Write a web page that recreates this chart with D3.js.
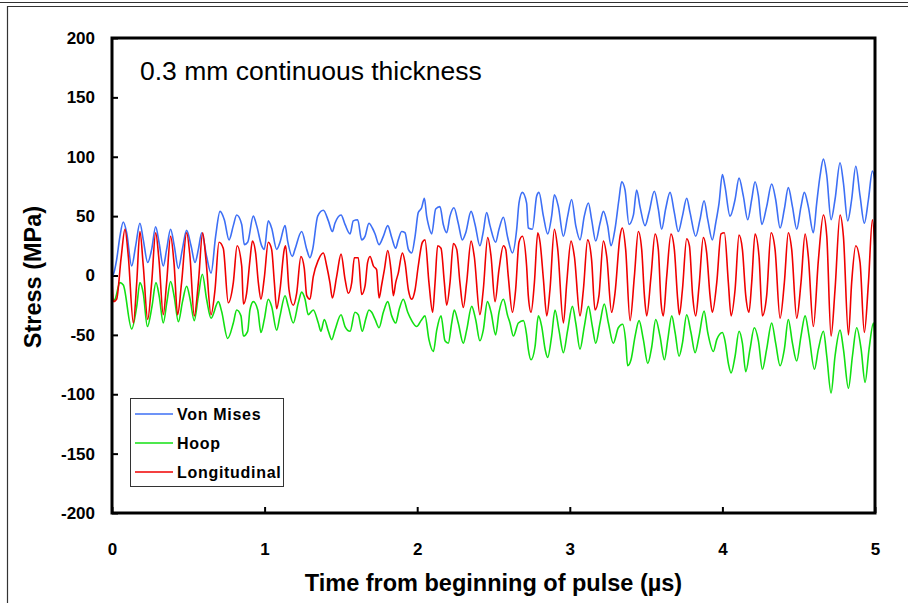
<!DOCTYPE html>
<html>
<head>
<meta charset="utf-8">
<script src="https://cdn.jsdelivr.net/npm/d3@7"></script>
<style>
  html, body { margin: 0; padding: 0; background: #fff; }
  svg { display: block; }
  text { font-family: "Liberation Sans", Arial, sans-serif; }
</style>
</head>
<body>
<svg id="chart" width="908" height="603"></svg>
<script>
// Stress histories, [time (µs), stress (MPa)]
const vonMises = [[0,0],[0.009,1],[0.030,13],[0.052,33],[0.074,45],[0.096,36],[0.129,8],[0.155,25],[0.183,44],[0.205,30],[0.234,11],[0.260,22],[0.286,41],[0.308,28],[0.336,8],[0.358,22],[0.384,39],[0.408,25],[0.435,6],[0.461,22],[0.489,38],[0.518,25],[0.544,11],[0.566,22],[0.588,36],[0.620,16],[0.649,2],[0.679,33],[0.708,54],[0.736,47],[0.767,30],[0.795,42],[0.817,51],[0.850,43],[0.867,26],[0.889,28],[0.926,50],[0.948,42],[0.981,25],[0.998,22],[1.024,46],[1.046,40],[1.079,22],[1.101,28],[1.134,42],[1.151,29],[1.182,16],[1.199,22],[1.243,37],[1.276,22],[1.297,15],[1.315,22],[1.348,50],[1.385,55],[1.418,46],[1.444,37],[1.461,44],[1.501,51],[1.527,43],[1.560,35],[1.581,46],[1.610,47],[1.636,30],[1.658,33],[1.684,44],[1.706,40],[1.724,35],[1.750,26],[1.778,33],[1.807,42],[1.833,32],[1.859,23],[1.876,30],[1.898,37],[1.920,36],[1.942,22],[1.964,19],[1.986,33],[2.007,53],[2.029,57],[2.047,65],[2.062,50],[2.073,43],[2.095,35],[2.121,56],[2.149,58],[2.171,43],[2.193,36],[2.215,50],[2.241,57],[2.269,44],[2.296,30],[2.318,36],[2.353,54],[2.379,43],[2.411,25],[2.433,37],[2.455,53],[2.477,42],[2.514,28],[2.536,39],[2.565,49],[2.593,32],[2.624,19],[2.652,39],[2.667,61],[2.689,70],[2.717,61],[2.728,40],[2.755,39],[2.783,67],[2.798,70],[2.827,50],[2.855,35],[2.881,50],[2.899,68],[2.925,58],[2.958,33],[2.986,50],[3.012,64],[3.039,42],[3.067,30],[3.095,50],[3.122,61],[3.143,47],[3.170,29],[3.198,44],[3.220,54],[3.248,42],[3.270,25],[3.296,39],[3.322,64],[3.340,79],[3.362,72],[3.388,43],[3.417,51],[3.438,72],[3.460,58],[3.493,42],[3.519,53],[3.554,71],[3.580,56],[3.602,39],[3.628,56],[3.657,70],[3.685,53],[3.711,37],[3.738,50],[3.766,65],[3.788,53],[3.825,33],[3.853,47],[3.880,63],[3.904,47],[3.934,30],[3.956,44],[3.978,61],[4.000,85],[4.017,75],[4.050,50],[4.083,64],[4.109,82],[4.137,67],[4.166,47],[4.192,64],[4.214,79],[4.236,67],[4.258,43],[4.290,58],[4.323,77],[4.349,64],[4.378,40],[4.406,56],[4.432,74],[4.459,58],[4.487,39],[4.515,58],[4.537,70],[4.563,58],[4.596,36],[4.618,61],[4.640,84],[4.662,98],[4.684,84],[4.712,47],[4.738,64],[4.771,95],[4.793,78],[4.821,46],[4.847,64],[4.874,92],[4.902,67],[4.930,44],[4.957,64],[4.983,88],[5.0,80]];

const hoop = [[0,-22],[0.02,-20],[0.052,-6],[0.074,-8],[0.129,-45],[0.162,-26],[0.183,-6],[0.205,-15],[0.232,-43],[0.262,-26],[0.288,-6],[0.310,-18],[0.336,-40],[0.360,-22],[0.384,-5],[0.408,-18],[0.435,-39],[0.462,-22],[0.489,-9],[0.512,-20],[0.539,-38],[0.565,-18],[0.592,1],[0.620,-20],[0.649,-36],[0.697,-22],[0.718,-30],[0.758,-53],[0.795,-40],[0.817,-29],[0.845,-34],[0.861,-51],[0.889,-47],[0.904,-29],[0.926,-22],[0.955,-29],[0.976,-48],[0.998,-37],[1.024,-20],[1.046,-26],[1.079,-46],[1.101,-34],[1.134,-17],[1.155,-26],[1.188,-40],[1.221,-23],[1.243,-14],[1.265,-20],[1.286,-33],[1.319,-29],[1.352,-40],[1.369,-47],[1.391,-37],[1.418,-47],[1.440,-54],[1.461,-46],[1.501,-33],[1.527,-43],[1.560,-47],[1.592,-31],[1.614,-33],[1.640,-47],[1.662,-37],[1.684,-29],[1.702,-31],[1.724,-37],[1.750,-44],[1.778,-31],[1.807,-22],[1.833,-34],[1.859,-40],[1.881,-29],[1.909,-20],[1.938,-31],[1.964,-38],[1.997,-43],[2.025,-38],[2.051,-34],[2.077,-54],[2.106,-64],[2.128,-46],[2.156,-34],[2.182,-55],[2.204,-57],[2.226,-40],[2.243,-29],[2.269,-40],[2.302,-57],[2.324,-46],[2.357,-26],[2.383,-37],[2.411,-55],[2.433,-46],[2.460,-22],[2.484,-31],[2.514,-50],[2.536,-31],[2.565,-20],[2.593,-34],[2.608,-40],[2.630,-51],[2.663,-40],[2.696,-38],[2.717,-50],[2.728,-62],[2.746,-71],[2.772,-60],[2.794,-34],[2.816,-43],[2.838,-62],[2.855,-69],[2.881,-51],[2.903,-29],[2.929,-46],[2.958,-65],[2.986,-46],[3.017,-26],[3.039,-40],[3.067,-62],[3.095,-43],[3.122,-26],[3.148,-43],[3.170,-57],[3.198,-40],[3.226,-24],[3.253,-40],[3.285,-57],[3.318,-44],[3.346,-41],[3.366,-55],[3.379,-76],[3.401,-71],[3.428,-51],[3.454,-38],[3.482,-54],[3.511,-74],[3.537,-60],[3.563,-37],[3.591,-51],[3.620,-71],[3.642,-54],[3.668,-34],[3.690,-48],[3.716,-68],[3.738,-57],[3.766,-33],[3.794,-48],[3.821,-65],[3.847,-51],[3.880,-30],[3.904,-48],[3.941,-64],[3.963,-54],[4.000,-48],[4.017,-55],[4.039,-74],[4.057,-82],[4.083,-68],[4.109,-47],[4.131,-57],[4.153,-81],[4.181,-62],[4.209,-44],[4.236,-55],[4.262,-79],[4.290,-62],[4.323,-40],[4.349,-57],[4.378,-76],[4.406,-62],[4.432,-37],[4.459,-57],[4.487,-72],[4.515,-51],[4.542,-34],[4.568,-51],[4.603,-79],[4.629,-62],[4.662,-47],[4.684,-68],[4.712,-99],[4.738,-68],[4.771,-46],[4.793,-62],[4.826,-95],[4.852,-68],[4.880,-44],[4.909,-62],[4.935,-90],[4.961,-62],[4.990,-40],[5.0,-57]];

const longitudinal = [[0,-5],[0.01,-22],[0.03,-20],[0.06,15],[0.085,39],[0.107,16],[0.140,-40],[0.162,-6],[0.183,37],[0.205,8],[0.234,-37],[0.260,-6],[0.286,36],[0.308,13],[0.336,-33],[0.358,-6],[0.384,33],[0.406,11],[0.430,-33],[0.456,-6],[0.489,36],[0.511,16],[0.539,-34],[0.566,-6],[0.594,36],[0.616,13],[0.649,-33],[0.675,-12],[0.701,28],[0.729,23],[0.762,-23],[0.795,-6],[0.820,25],[0.850,8],[0.861,-24],[0.882,-15],[0.904,13],[0.920,29],[0.941,19],[0.959,-6],[0.976,-20],[0.998,-2],[1.024,28],[1.046,22],[1.064,-6],[1.079,-28],[1.101,-12],[1.129,22],[1.138,25],[1.160,-12],[1.188,-25],[1.210,-15],[1.238,16],[1.260,6],[1.276,-17],[1.297,-20],[1.319,-1],[1.352,13],[1.385,19],[1.407,8],[1.428,-6],[1.444,-19],[1.472,-1],[1.501,18],[1.527,-3],[1.549,-15],[1.571,-6],[1.588,15],[1.614,15],[1.636,-16],[1.658,-9],[1.675,11],[1.691,16],[1.713,8],[1.734,5],[1.750,-19],[1.767,-8],[1.785,5],[1.807,21],[1.828,5],[1.844,-17],[1.859,-6],[1.876,2],[1.903,19],[1.920,11],[1.942,-12],[1.964,-20],[1.986,-12],[2.007,8],[2.034,28],[2.051,30],[2.077,-6],[2.101,-31],[2.117,-6],[2.134,25],[2.156,23],[2.178,-6],[2.193,-25],[2.215,-6],[2.237,27],[2.259,22],[2.280,-6],[2.302,-27],[2.324,-6],[2.353,29],[2.374,16],[2.411,-33],[2.433,-12],[2.462,32],[2.484,16],[2.510,-22],[2.536,5],[2.565,25],[2.580,22],[2.597,-1],[2.624,-31],[2.645,-12],[2.667,28],[2.689,33],[2.717,8],[2.728,-17],[2.746,-31],[2.768,-6],[2.790,36],[2.805,28],[2.827,-3],[2.849,-34],[2.870,-12],[2.899,39],[2.921,22],[2.958,-40],[2.980,-6],[3.008,29],[3.030,16],[3.067,-34],[3.089,-12],[3.117,30],[3.143,13],[3.165,-29],[3.191,-17],[3.220,29],[3.242,16],[3.274,-31],[3.296,-15],[3.329,33],[3.344,40],[3.366,22],[3.395,-38],[3.423,-1],[3.449,37],[3.471,22],[3.489,-17],[3.504,-34],[3.532,-1],[3.559,35],[3.580,22],[3.598,-23],[3.613,-34],[3.635,-1],[3.663,35],[3.685,22],[3.707,-20],[3.718,-33],[3.738,-12],[3.766,31],[3.784,25],[3.805,-17],[3.825,-34],[3.847,-9],[3.875,32],[3.897,19],[3.919,-17],[3.934,-31],[3.963,-6],[3.991,35],[4.013,36],[4.039,-6],[4.057,-34],[4.083,-12],[4.109,34],[4.131,22],[4.153,-17],[4.174,-31],[4.192,-6],[4.214,35],[4.240,16],[4.262,-34],[4.290,-17],[4.319,36],[4.345,22],[4.378,-36],[4.406,-6],[4.432,36],[4.454,22],[4.487,-36],[4.515,-6],[4.542,35],[4.563,16],[4.596,-43],[4.629,13],[4.662,51],[4.684,33],[4.712,-51],[4.738,-12],[4.771,51],[4.793,33],[4.826,-50],[4.847,-6],[4.874,25],[4.902,11],[4.930,-48],[4.957,-6],[4.983,47],[5.0,22]];

const seriesNames = ["Von Mises", "Hoop", "Longitudinal"];
const seriesColors = ["#3d6ff5", "#12e012", "#f00000"];
const xTicks = [0, 1, 2, 3, 4, 5];
const yTicks = [-200, -150, -100, -50, 0, 50, 100, 150, 200];
const annotation = "0.3 mm continuous thickness";
const xTitle = "Time from beginning of pulse (µs)";
const yTitle = "Stress (MPa)";

const svg = d3.select("#chart");
const plot = { left: 112, top: 38, right: 875, bottom: 513 };

const x = d3.scaleLinear().domain([0, 5]).range([plot.left, plot.right]);
const y = d3.scaleLinear().domain([-200, 200]).range([plot.bottom, plot.top]);

// page frame lines
const frame = svg.append("g").attr("stroke", "#333").attr("fill", "none");
frame.append("line").attr("x1", 0).attr("x2", 908).attr("y1", 2.5).attr("y2", 2.5).attr("stroke-width", 1.2);
frame.append("line").attr("x1", 7).attr("x2", 908).attr("y1", 6.5).attr("y2", 6.5).attr("stroke-width", 1.2);
frame.append("line").attr("x1", 7.5).attr("x2", 7.5).attr("y1", 6).attr("y2", 603).attr("stroke-width", 1.2);

// axes
const xAxis = d3.axisBottom(x).tickValues(xTicks).tickSizeInner(-6).tickSizeOuter(0).tickPadding(30)
  .tickFormat(d => String(d));
const yAxis = d3.axisLeft(y).tickValues(yTicks).tickSizeInner(-6).tickSizeOuter(0).tickPadding(17)
  .tickFormat(d => String(d));

const gx = svg.append("g").attr("transform", `translate(0,${plot.bottom})`).call(xAxis);
const gy = svg.append("g").attr("transform", `translate(${plot.left},0)`).call(yAxis);
[gx, gy].forEach(g => {
  g.select(".domain").remove();
  g.selectAll(".tick line").attr("stroke", "#000").attr("stroke-width", 2);
  g.selectAll(".tick text").attr("fill", "#000")
    .style("font-family", "'Liberation Sans', Arial, sans-serif")
    .style("font-weight", "bold").style("font-size", "17px");
});

// series
const line = d3.line().x(d => x(d[0])).y(d => y(d[1])).curve(d3.curveMonotoneX);
const allSeries = [vonMises, hoop, longitudinal];
svg.append("g").selectAll("path").data(allSeries).join("path")
  .attr("d", line)
  .attr("fill", "none")
  .attr("stroke", (d, i) => seriesColors[i])
  .attr("stroke-width", 1.6)
  .attr("stroke-linejoin", "round");

// plot border
svg.append("rect")
  .attr("x", plot.left).attr("y", plot.top)
  .attr("width", plot.right - plot.left).attr("height", plot.bottom - plot.top)
  .attr("fill", "none").attr("stroke", "#000").attr("stroke-width", 3);

// annotation
svg.append("text").attr("x", 140).attr("y", 80)
  .style("font-size", "26.5px").attr("fill", "#000").text(annotation);

// legend
const legend = svg.append("g");
legend.append("rect").attr("x", 130.5).attr("y", 398.5).attr("width", 153).attr("height", 88)
  .attr("fill", "#fff").attr("stroke", "#333").attr("stroke-width", 1);
const rowY = d3.scalePoint().domain(seriesNames).range([414, 472]);
const rows = legend.selectAll("g.row").data(seriesNames).join("g").attr("class", "row")
  .attr("transform", d => `translate(0,${rowY(d)})`);
rows.append("line").attr("x1", 135).attr("x2", 173).attr("y1", 0).attr("y2", 0)
  .attr("stroke", (d, i) => seriesColors[i]).attr("stroke-width", 1.5);
rows.append("text").attr("x", 177).attr("y", 0).attr("dy", "0.36em")
  .style("font-size", "16px").style("font-weight", "bold").style("letter-spacing", "0.7px")
  .attr("fill", "#000").text(d => d);

// axis titles
svg.append("text").attr("x", (plot.left + plot.right) / 2).attr("y", 591)
  .attr("text-anchor", "middle").style("font-size", "23.5px").style("font-weight", "bold")
  .attr("fill", "#000").text(xTitle);
svg.append("text").attr("transform", "translate(41,277) rotate(-90)")
  .attr("text-anchor", "middle").style("font-size", "23.5px").style("font-weight", "bold")
  .attr("fill", "#000").text(yTitle);
</script>
</body>
</html>
